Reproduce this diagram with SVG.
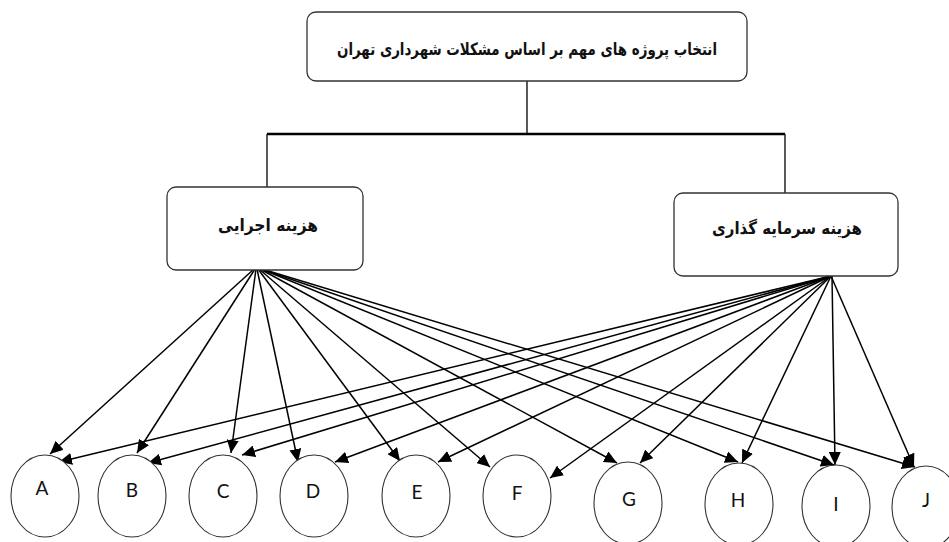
<svg xmlns="http://www.w3.org/2000/svg" width="949" height="542" viewBox="0 0 949 542">
<defs>
<marker id="ah" markerUnits="userSpaceOnUse" markerWidth="14" markerHeight="12" refX="13" refY="6" orient="auto">
<path d="M0,0 L13,6 L0,12 Z" fill="#000"/>
</marker>
<style>
.box{fill:#fff;stroke:#333;stroke-width:1.3}
.nd{fill:#fff;stroke:#333;stroke-width:1.1}
.fa{font-family:"DejaVu Sans",sans-serif;font-size:17px;font-weight:bold;fill:#111;text-anchor:middle}
.lb{font-family:Lato,"Liberation Sans",sans-serif;font-size:19px;fill:#111;text-anchor:middle}
.ar{stroke:#000;stroke-width:1.5;fill:none;marker-end:url(#ah)}
.ln{stroke:#000;stroke-width:1.3;fill:none}
</style>
</defs>
<rect width="949" height="542" fill="#fff"/>
<g id="connectors">
<line class="ln" x1="527" y1="81" x2="527" y2="134"/>
<line x1="267" y1="134" x2="785" y2="134" stroke="#000" stroke-width="2.6"/>
<line class="ln" x1="267" y1="134" x2="267" y2="187"/>
<line class="ln" x1="785" y1="134" x2="785" y2="193"/>
<line class="ar" x1="254" y1="269" x2="50" y2="454"/>
<line class="ar" x1="255" y1="269" x2="137" y2="453"/>
<line class="ar" x1="256" y1="269" x2="231" y2="453"/>
<line class="ar" x1="257" y1="269" x2="298" y2="462"/>
<line class="ar" x1="258" y1="269" x2="400" y2="461"/>
<line class="ar" x1="259" y1="269" x2="490" y2="467"/>
<line class="ar" x1="260" y1="269" x2="617" y2="463"/>
<line class="ar" x1="261" y1="269" x2="738" y2="462"/>
<line class="ar" x1="261" y1="269" x2="834" y2="465"/>
<line class="ar" x1="262" y1="269" x2="915" y2="467"/>
<line class="ar" x1="831" y1="276" x2="59" y2="462"/>
<line class="ar" x1="831" y1="276" x2="148" y2="463"/>
<line class="ar" x1="831" y1="276" x2="242" y2="455"/>
<line class="ar" x1="831" y1="276" x2="335" y2="462"/>
<line class="ar" x1="831" y1="276" x2="438" y2="462"/>
<line class="ar" x1="831" y1="276" x2="550" y2="478"/>
<line class="ar" x1="831" y1="276" x2="640" y2="463"/>
<line class="ar" x1="831" y1="276" x2="742" y2="463"/>
<line class="ar" x1="832" y1="276" x2="835" y2="465"/>
<line class="ar" x1="831" y1="276" x2="914" y2="467"/>
</g>
<g id="top">
<rect class="box" x="307" y="12" width="440" height="69" rx="9"/>
<text class="fa" x="527" y="55" direction="rtl" textLength="380" lengthAdjust="spacingAndGlyphs">انتخاب پروژه های مهم بر اساس مشکلات شهرداری تهران</text>
</g>
<g id="exec">
<rect class="box" x="167" y="187" width="196" height="83" rx="9"/>
<text class="fa" x="268" y="231" direction="rtl" textLength="100" lengthAdjust="spacingAndGlyphs">هزینه اجرایی</text>
</g>
<g id="invest">
<rect class="box" x="674" y="193" width="224" height="83" rx="9"/>
<text class="fa" x="787" y="234" direction="rtl" textLength="150" lengthAdjust="spacingAndGlyphs">هزینه سرمایه گذاری</text>
</g>
<g id="nA"><ellipse class="nd" cx="45" cy="496" rx="34" ry="41"/><text class="lb" x="42" y="495">A</text></g>
<g id="nB"><ellipse class="nd" cx="132" cy="496" rx="34" ry="41"/><text class="lb" x="132" y="497">B</text></g>
<g id="nC"><ellipse class="nd" cx="223" cy="496" rx="34" ry="41"/><text class="lb" x="223" y="498">C</text></g>
<g id="nD"><ellipse class="nd" cx="314" cy="496" rx="34" ry="41"/><text class="lb" x="313" y="498">D</text></g>
<g id="nE"><ellipse class="nd" cx="416" cy="496" rx="34" ry="41"/><text class="lb" x="417" y="499">E</text></g>
<g id="nF"><ellipse class="nd" cx="517" cy="496" rx="34" ry="41"/><text class="lb" x="517" y="500">F</text></g>
<g id="nG"><ellipse class="nd" cx="628" cy="503" rx="34" ry="41"/><text class="lb" x="629" y="506">G</text></g>
<g id="nH"><ellipse class="nd" cx="739" cy="504" rx="34" ry="41"/><text class="lb" x="738" y="507">H</text></g>
<g id="nI"><ellipse class="nd" cx="836" cy="506" rx="34" ry="41"/><text class="lb" x="836" y="511">I</text></g>
<g id="nJ"><ellipse class="nd" cx="926" cy="507" rx="34" ry="41"/><text class="lb" x="926" y="507">J</text></g>
</svg>
